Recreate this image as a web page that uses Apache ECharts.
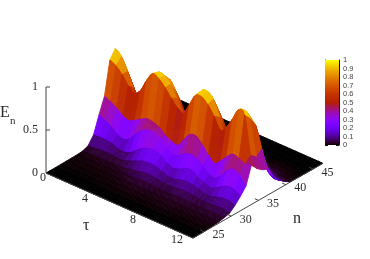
<!DOCTYPE html>
<html><head><meta charset="utf-8">
<style>html,body{margin:0;padding:0;background:#fff}#c{width:370px;height:259px}</style>
<script src="https://cdn.jsdelivr.net/npm/echarts@6/dist/echarts.min.js"></script>
</head><body><div id="c"></div>
<script>
// tau grid
const tauValues=[0,.5,1,1.5,2,2.5,3,3.5,4,4.5,5,5.5,6,6.5,7,7.5,8,8.5,9,9.5,10,10.5,11,11.5,12];
// n lines of the mesh
const nValues=[23,23.7,24.7,25.7,26.7,27.7,28.7,29.7,30.7,31.7,32.7,33.7,34.7,35.7,36.7,37.7,38.7,39.7,40.7,41.7,42.7,43.7,44.7,45.7,46.8];
const floorRow=[0,0,0,0,0,0,0,0,0,0,0,0,0,0,0,0,0,0,0,0,0,0,0,0,0];
const n26=[.001,.001,.001,.001,.001,.001,.002,.002,.003,.003,.004,.004,.004,.003,.003,.004,.004,.004,.004,.003,.003,.003,.004,.004,.003];
const n27=[.002,.002,.003,.003,.003,.003,.004,.005,.006,.008,.009,.01,.009,.008,.008,.009,.01,.01,.009,.008,.007,.008,.009,.009,.008];
const n28=[.003,.003,.004,.005,.005,.005,.006,.008,.012,.016,.019,.02,.018,.016,.015,.016,.018,.019,.017,.015,.014,.015,.017,.017,.015];
const n29=[.005,.006,.007,.008,.009,.009,.01,.015,.023,.03,.037,.04,.036,.03,.028,.03,.034,.036,.032,.028,.026,.028,.032,.032,.028];
const n30=[.01,.012,.015,.018,.018,.018,.02,.03,.045,.06,.075,.08,.07,.055,.05,.055,.065,.07,.06,.05,.045,.05,.06,.06,.045];
const n31=[.035,.04,.05,.05,.045,.04,.05,.08,.11,.14,.15,.145,.12,.09,.09,.11,.13,.12,.1,.08,.08,.1,.12,.12,.10];
const n32=[.125,.13,.13,.12,.09,.085,.11,.17,.22,.25,.26,.23,.18,.15,.17,.21,.22,.18,.14,.11,.14,.19,.22,.21,.17];
const n33=[.32,.29,.25,.19,.165,.2,.29,.36,.4,.405,.36,.29,.24,.26,.31,.335,.315,.26,.2,.185,.25,.34,.38,.34,.25];
const n34=[.5,.47,.425,.37,.345,.38,.425,.46,.45,.42,.36,.32,.31,.41,.5,.51,.44,.35,.29,.35,.43,.49,.47,.44,.46];
const n35=[.887,.85,.78,.68,.63,.69,.84,.95,.92,.85,.76,.68,.645,.78,.92,.93,.87,.77,.64,.7,.83,.97,.94,.5,.38];
const n36=[.985,.92,.78,.62,.5,.6,.8,.93,.92,.85,.72,.6,.55,.72,.93,.96,.9,.72,.55,.62,.85,.93,.86,.45,.33];
const n37=[.8,.72,.58,.42,.36,.48,.68,.8,.84,.72,.55,.44,.42,.6,.78,.82,.72,.52,.4,.55,.72,.76,.75,.5,.3];
const n38=[.55,.48,.35,.22,.18,.28,.48,.62,.66,.55,.38,.27,.26,.42,.58,.64,.54,.36,.27,.38,.5,.55,.45,.23,.19];
const n39=[.32,.27,.18,.1,.08,.14,.28,.4,.44,.35,.22,.14,.14,.25,.38,.42,.34,.2,.14,.22,.3,.32,.17,.1,.1];
const n40=[.15,.12,.07,.04,.03,.06,.13,.2,.24,.18,.1,.06,.06,.12,.2,.23,.17,.09,.06,.1,.12,.13,.07,.05,.05];
const n41=[.05,.04,.02,.012,.01,.02,.05,.08,.1,.07,.04,.02,.02,.05,.08,.1,.07,.03,.02,.04,.04,.04,.025,.015,.006];
const n42=[.015,.012,.006,.003,.003,.006,.015,.025,.03,.02,.012,.006,.006,.015,.025,.03,.02,.01,.006,.012,.015,.015,.01,.005,.003];
const n43=[.003,.003,.002,.001,.001,.002,.004,.006,.008,.005,.003,.002,.002,.004,.006,.008,.005,.003,.002,.003,.004,.004,.003,.001,.001];
const rows=[floorRow,floorRow,floorRow,n26,n27,n28,n29,n30,n31,n32,n33,n34,n35,n36,n37,n38,n39,n40,n41,n42,n43,floorRow,floorRow,floorRow,floorRow];
// ticks
const zTicks=[1,0.5];
const zLabels=['1','0.5','0'];
const tauTicks=[0,4,8,12];
const nTicks=[25,30,35,40,45];
const cbTicks=[0,.1,.2,.3,.4,.5,.6,.7,.8,.9,1];

// oblique view of the box
const view={ox:46,oy:173,tx:12.25,ty:5.42,nx:5.46,ny:-3.14,zy:-86,n0:23,nEnd:46.8,tEnd:12};
function project(t,n,z){
  return [view.ox+view.tx*t+view.nx*(n-view.n0), view.oy+view.ty*t+view.ny*(n-view.n0)+view.zy*z];
}
function palette(x){ // gnuplot rgbformulae 7,5,15
  x=Math.max(0,Math.min(1,x));
  const r=Math.sqrt(x),g=x*x*x,b=Math.max(0,Math.sin(2*Math.PI*x));
  return 'rgb('+Math.round(r*255)+','+Math.round(g*255)+','+Math.round(b*255)+')';
}
// smooth drawing of a row between its read values, like a smooth line
function smoothAt(row,i,s){
  const a=row[Math.max(0,i-1)],b=row[i],c=row[i+1],d=row[Math.min(row.length-1,i+2)];
  const v=.5*(2*b+(c-a)*s+(2*a-5*b+4*c-d)*s*s+(3*b-a-3*c+d)*s*s*s);
  return Math.max(0,Math.min(Math.max(b,c)+.03,Math.max(v,Math.min(b,c)-.03)));
}
const sub=4;
const cells=[];
for(let j=nValues.length-2;j>=0;j--){
  for(let i=0;i<tauValues.length-1;i++){
    const mean=(rows[j][i]+rows[j][i+1]+rows[j+1][i]+rows[j+1][i+1])/4;
    const t0=tauValues[i],dt=(tauValues[i+1]-t0)/sub;
    for(let k=0;k<sub;k++){
      cells.push([t0+k*dt,t0+(k+1)*dt,nValues[j],nValues[j+1],
        smoothAt(rows[j],i,k/sub),smoothAt(rows[j],i,(k+1)/sub),smoothAt(rows[j+1],i,k/sub),smoothAt(rows[j+1],i,(k+1)/sub),mean]);
    }
  }
}
const cbLevels=[];
for(let k=0;k<100;k++)cbLevels.push(k/100);

const labelColor='#2a2a2a',serif='"Liberation Serif",serif';
const tauOffset={0:[-3,5],4:[-10,4],8:[-11,3],12:[-16,2]};
const textItems=[];
zLabels.forEach((s,i)=>{const p=project(0,view.n0,[1,.5,0][i]);textItems.push([p[0]-8,p[1],s,'right',12]);});
tauTicks.forEach(t=>{const p=project(t,view.n0,0),o=tauOffset[t];textItems.push([p[0]+o[0],p[1]+o[1],String(t),'center',12]);});
nTicks.forEach(n=>{const p=project(view.tEnd,n,0);textItems.push([p[0]+14.5,p[1]+3.5,String(n),'center',12]);});

const edges=[
 [project(0,view.n0,0),project(view.tEnd,view.n0,0)],
 [project(view.tEnd,view.n0,0),project(view.tEnd,view.nEnd,0)],
 [project(0,view.n0,0),project(0,view.n0,1)]
];
zTicks.forEach(z=>{const p=project(0,view.n0,z);edges.push([p,[p[0]+4,p[1]]]);});
nTicks.forEach(n=>{edges.push([project(view.tEnd,n,0),project(view.tEnd-.3,n,0)]);});

const chart=echarts.init(document.getElementById('c'),null,{renderer:'canvas'});
chart.setOption({
 animation:false,
 backgroundColor:'#fff',
 grid:[{left:0,top:0,width:370,height:259},{left:325,top:60,width:14,height:85,show:true,backgroundColor:'transparent',borderWidth:0}],
 xAxis:[{type:'value',min:0,max:370,show:false,gridIndex:0},{type:'value',min:0,max:1,show:false,gridIndex:1}],
 yAxis:[
  {type:'value',min:0,max:259,inverse:true,show:false,gridIndex:0},
  {type:'value',min:0,max:1,interval:.1,gridIndex:1,position:'right',
   axisLine:{show:true,onZero:false,lineStyle:{color:'#111',width:1}},
   axisTick:{show:true,inside:true,length:3,lineStyle:{color:'#111'}},
   axisLabel:{show:true,margin:4,fontSize:7.5,color:'#444',fontFamily:'"Liberation Sans",sans-serif',
     customValues:cbTicks,formatter:v=>String(+v.toFixed(1))},
   splitLine:{show:false}},
  {type:'value',min:0,max:1,interval:.1,gridIndex:1,position:'left',
   axisLine:{show:true,onZero:false,lineStyle:{color:'#111',width:1}},
   axisTick:{show:true,inside:true,length:3,lineStyle:{color:'#111'}},
   axisLabel:{show:false},splitLine:{show:false}}
 ],
 series:[
  {type:'custom',name:'surface',xAxisIndex:0,yAxisIndex:0,clip:false,progressive:0,silent:true,data:cells,
   renderItem:(params,api)=>{
     const d=cells[params.dataIndex];
     const pts=[project(d[0],d[2],d[4]),project(d[1],d[2],d[5]),project(d[1],d[3],d[7]),project(d[0],d[3],d[6])].map(p=>api.coord(p));
     const c=palette(d[8]);
     return {type:'polygon',shape:{points:pts},style:{fill:c,stroke:c,lineWidth:.9}};
   }},
  {type:'custom',name:'axes',xAxisIndex:0,yAxisIndex:0,clip:false,silent:true,data:edges,z:5,
   renderItem:(params,api)=>{
     const e=edges[params.dataIndex],a=api.coord(e[0]),b=api.coord(e[1]);
     return {type:'line',shape:{x1:a[0],y1:a[1],x2:b[0],y2:b[1]},style:{stroke:'#444',lineWidth:1}};
   }},
  {type:'custom',name:'labels',xAxisIndex:0,yAxisIndex:0,clip:false,silent:true,data:textItems,z:6,
   renderItem:(params,api)=>{
     const t=textItems[params.dataIndex],p=api.coord([t[0],t[1]]);
     return {type:'text',x:p[0],y:p[1],style:{text:t[2],fill:labelColor,font:t[4]+'px '+serif,align:t[3],verticalAlign:'middle'}};
   }},
  {type:'custom',name:'colorbar',xAxisIndex:1,yAxisIndex:1,clip:true,silent:true,data:cbLevels,z:1,
   renderItem:(params,api)=>{
     const v=cbLevels[params.dataIndex],a=api.coord([0,v]),b=api.coord([1,v+.02]);
     return {type:'rect',shape:{x:a[0],y:b[1],width:b[0]-a[0],height:a[1]-b[1]},style:{fill:palette(v+.005)}};
   }}
 ],
 graphic:[
  {type:'text',left:0,top:105,style:{text:'E',font:'16px '+serif,fill:labelColor}},
  {type:'text',left:10,top:116,style:{text:'n',font:'11px '+serif,fill:labelColor}},
  {type:'text',left:83,top:218,style:{text:'τ',font:'16px '+serif,fill:labelColor}},
  {type:'text',left:293,top:211,style:{text:'n',font:'16px '+serif,fill:labelColor}}
 ]
});
</script></body></html>
